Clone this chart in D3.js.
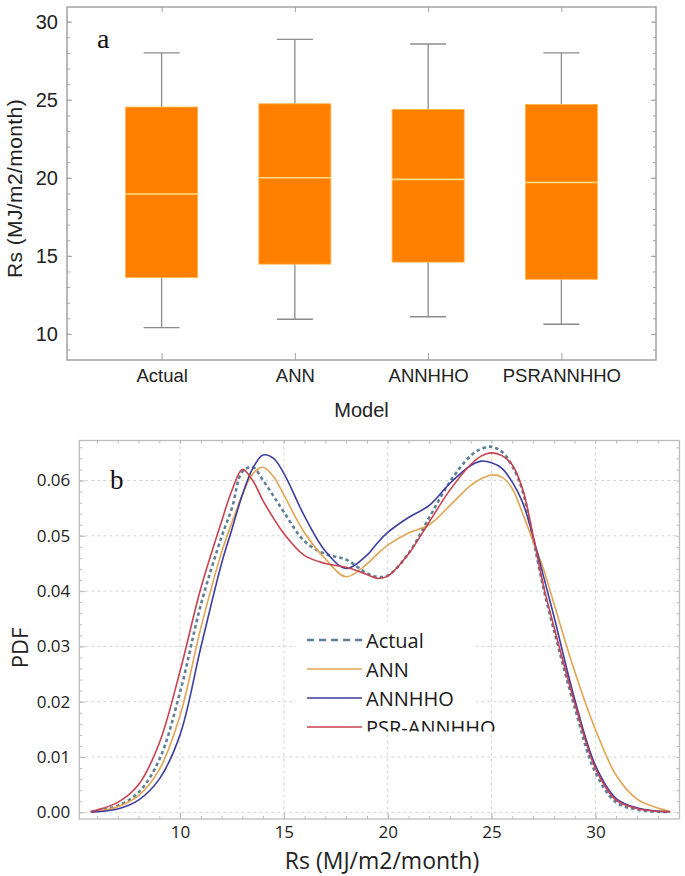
<!DOCTYPE html>
<html><head><meta charset="utf-8">
<script src="https://cdn.jsdelivr.net/npm/d3@7"></script>
<style>
html,body{margin:0;padding:0;background:#fff;}
svg{display:block;}
</style></head>
<body>
<svg id="chart" width="685" height="876"></svg>
<script>
// ---------- Data: panel a (box plot) ----------
const categories = ["Actual", "ANN", "ANNHHO", "PSRANNHHO"];
const whiskerLow  = [10.40, 10.94, 11.10, 10.62];
const q1          = [13.62, 14.47, 14.60, 13.50];
const median      = [18.96, 20.00, 19.90, 19.70];
const q3          = [24.53, 24.74, 24.38, 24.70];
const whiskerHigh = [28.00, 28.87, 28.57, 28.00];
const boxYTicks = [10, 15, 20, 25, 30];

// ---------- Data: panel b (PDF curves) ----------
const pdfX = [5.7, 6, 7, 8, 9, 10, 11, 12, 12.5, 13, 13.5, 14, 14.5, 15, 16, 17, 18, 19, 19.5, 20, 21, 22, 23, 24, 24.5, 25, 25.5, 26, 26.5, 27, 27.5, 28, 29, 30, 31, 32, 33, 33.6];
const pdfActual = [0.0001, 0.0003, 0.0012, 0.0036, 0.0095, 0.0217, 0.0375, 0.0498, 0.0550, 0.0616, 0.0624, 0.0600, 0.0572, 0.0543, 0.0490, 0.0467, 0.0457, 0.0432, 0.0426, 0.0428, 0.0468, 0.0533, 0.0598, 0.0645, 0.0657, 0.0661, 0.0652, 0.0626, 0.0580, 0.0495, 0.0405, 0.0330, 0.0190, 0.0072, 0.0018, 0.0005, 0.0001, 0.0001];
const pdfANN    = [0.0001, 0.0002, 0.0010, 0.0030, 0.0077, 0.0175, 0.0333, 0.0470, 0.0524, 0.0574, 0.0612, 0.0624, 0.0607, 0.0574, 0.0505, 0.0458, 0.0426, 0.0449, 0.0467, 0.0483, 0.0505, 0.0520, 0.0555, 0.0591, 0.0603, 0.0610, 0.0606, 0.0585, 0.0540, 0.0490, 0.0440, 0.0378, 0.0255, 0.0150, 0.0067, 0.0024, 0.0008, 0.0002];
const pdfANNHHO = [0.0001, 0.0001, 0.0006, 0.0022, 0.0060, 0.0140, 0.0298, 0.0450, 0.0512, 0.0574, 0.0622, 0.0646, 0.0640, 0.0613, 0.0535, 0.0472, 0.0441, 0.0465, 0.0487, 0.0506, 0.0533, 0.0555, 0.0595, 0.0627, 0.0635, 0.0632, 0.0622, 0.0597, 0.0560, 0.0498, 0.0427, 0.0355, 0.0205, 0.0085, 0.0025, 0.0008, 0.0002, 0.0001];
const pdfPSR    = [0.0001, 0.0004, 0.0018, 0.0050, 0.0125, 0.0255, 0.0405, 0.0526, 0.0582, 0.0620, 0.0600, 0.0563, 0.0532, 0.0504, 0.0464, 0.0450, 0.0443, 0.0430, 0.0423, 0.0427, 0.0467, 0.0525, 0.0583, 0.0629, 0.0644, 0.0650, 0.0645, 0.0628, 0.0584, 0.0500, 0.0410, 0.0336, 0.0198, 0.0080, 0.0022, 0.0007, 0.0002, 0.0001];
const seriesNames = ["Actual", "ANN", "ANNHHO", "PSR-ANNHHO"];
const pdfXTicks = [10, 15, 20, 25, 30];
const pdfYTicks = [0, 0.01, 0.02, 0.03, 0.04, 0.05, 0.06];

const svg = d3.select("#chart");

// ================= Panel a =================
const A = {left: 67, right: 656, top: 7, bottom: 360};
const xA = d3.scalePoint().domain(categories).range([A.left, A.right]).padding(0.71);
const yA = d3.scaleLinear().domain([8.33, 30.94]).range([A.bottom, A.top]);
const frameA = "#a3a3a3";
const fontA = "'Liberation Sans', Arial, sans-serif";

const gA = svg.append("g");

function styleAxis(g, color, fontFamily, fontSize) {
  g.select(".domain").remove();
  g.selectAll(".tick line").attr("stroke", color).attr("stroke-width", 1);
  g.selectAll(".tick text").attr("fill", "#222").style("font-family", fontFamily).style("font-size", fontSize + "px");
}

gA.append("g").attr("transform", `translate(${A.left},0)`)
  .call(d3.axisLeft(yA).tickValues(boxYTicks).tickSize(-5).tickPadding(9).tickFormat(d3.format("d")))
  .call(g => styleAxis(g, frameA, fontA, 20));
gA.append("g").attr("transform", `translate(${A.left},0)`)
  .call(d3.axisLeft(yA).tickValues(d3.range(9, 31, 1)).tickSize(-3).tickFormat(""))
  .call(g => styleAxis(g, frameA, fontA, 10));
gA.append("g").attr("transform", `translate(${A.right},0)`)
  .call(d3.axisRight(yA).tickValues(boxYTicks).tickSize(-5).tickFormat(""))
  .call(g => styleAxis(g, frameA, fontA, 10));
gA.append("g").attr("transform", `translate(${A.right},0)`)
  .call(d3.axisRight(yA).tickValues(d3.range(9, 31, 1)).tickSize(-3).tickFormat(""))
  .call(g => styleAxis(g, frameA, fontA, 10));
gA.append("g").attr("transform", `translate(0,${A.bottom})`)
  .call(d3.axisBottom(xA).tickSize(-7).tickPadding(9))
  .call(g => styleAxis(g, frameA, fontA, 18.5));
gA.append("g").attr("transform", `translate(0,${A.top})`)
  .call(d3.axisTop(xA).tickSize(-5).tickFormat(""))
  .call(g => styleAxis(g, frameA, fontA, 10));

gA.append("rect").attr("x", A.left).attr("y", A.top)
  .attr("width", A.right - A.left).attr("height", A.bottom - A.top)
  .attr("fill", "none").attr("stroke", frameA).attr("stroke-width", 1.5);

const boxW = 72, capW = 36;
const boxes = gA.append("g").selectAll("g").data(categories).join("g");
boxes.append("line")
  .attr("x1", d => xA(d)).attr("x2", d => xA(d))
  .attr("y1", (d, i) => yA(whiskerHigh[i])).attr("y2", (d, i) => yA(q3[i]))
  .attr("stroke", "#8c8c8c").attr("stroke-width", 1.3);
boxes.append("line")
  .attr("x1", d => xA(d)).attr("x2", d => xA(d))
  .attr("y1", (d, i) => yA(q1[i])).attr("y2", (d, i) => yA(whiskerLow[i]))
  .attr("stroke", "#8c8c8c").attr("stroke-width", 1.3);
boxes.append("line")
  .attr("x1", d => xA(d) - capW / 2).attr("x2", d => xA(d) + capW / 2)
  .attr("y1", (d, i) => yA(whiskerHigh[i])).attr("y2", (d, i) => yA(whiskerHigh[i]))
  .attr("stroke", "#8c8c8c").attr("stroke-width", 1.3);
boxes.append("line")
  .attr("x1", d => xA(d) - capW / 2).attr("x2", d => xA(d) + capW / 2)
  .attr("y1", (d, i) => yA(whiskerLow[i])).attr("y2", (d, i) => yA(whiskerLow[i]))
  .attr("stroke", "#8c8c8c").attr("stroke-width", 1.3);
boxes.append("rect")
  .attr("x", d => xA(d) - boxW / 2).attr("width", boxW)
  .attr("y", (d, i) => yA(q3[i])).attr("height", (d, i) => yA(q1[i]) - yA(q3[i]))
  .attr("fill", "#ff8000").attr("stroke", "#ffb347").attr("stroke-width", 0.8);
boxes.append("line")
  .attr("x1", d => xA(d) - boxW / 2).attr("x2", d => xA(d) + boxW / 2)
  .attr("y1", (d, i) => yA(median[i])).attr("y2", (d, i) => yA(median[i]))
  .attr("stroke", "#ffe08a").attr("stroke-width", 1.6);

gA.append("text").attr("x", 97).attr("y", 48)
  .style("font-family", "'Liberation Serif', 'Times New Roman', serif").style("font-size", "28px")
  .attr("fill", "#111").text("a");
gA.append("text")
  .attr("transform", `translate(22,${(A.top + A.bottom) / 2 + 5}) rotate(-90)`)
  .attr("text-anchor", "middle").attr("fill", "#222")
  .style("font-family", fontA).style("font-size", "21px").style("letter-spacing", "0.4px")
  .text("Rs (MJ/m2/month)");
gA.append("text").attr("x", (A.left + A.right) / 2).attr("y", 417)
  .attr("text-anchor", "middle").attr("fill", "#222")
  .style("font-family", fontA).style("font-size", "20px").text("Model");

// ================= Panel b =================
const B = {left: 79.3, right: 679.5, top: 440.5, bottom: 819};
const xB = d3.scaleLinear().domain([5.15, 34.05]).range([B.left, B.right]);
const yB = d3.scaleLinear().domain([-0.00121, 0.06723]).range([B.bottom, B.top]);
const frameB = "#bdbdbd";
const fontB = "'Open Sans', 'Noto Sans', sans-serif";
const gB = svg.append("g");

gB.append("g").selectAll("line").data(pdfYTicks).join("line")
  .attr("x1", B.left).attr("x2", B.right)
  .attr("y1", d => yB(d)).attr("y2", d => yB(d))
  .attr("stroke", "#d4d4d4").attr("stroke-width", 1).attr("stroke-dasharray", "3,3");
gB.append("g").selectAll("line").data(pdfXTicks).join("line")
  .attr("x1", d => xB(d)).attr("x2", d => xB(d))
  .attr("y1", B.top).attr("y2", B.bottom)
  .attr("stroke", "#d4d4d4").attr("stroke-width", 1).attr("stroke-dasharray", "3,3");

gB.append("g").attr("transform", `translate(${B.left},0)`)
  .call(d3.axisLeft(yB).tickValues(pdfYTicks).tickSize(-6).tickPadding(9).tickFormat(d3.format(".2f")))
  .call(g => styleAxis(g, frameB, fontB, 17));
gB.append("g").attr("transform", `translate(${B.left},0)`)
  .call(d3.axisLeft(yB).tickValues(d3.range(0, 0.0665, 0.002)).tickSize(-3).tickFormat(""))
  .call(g => styleAxis(g, frameB, fontB, 10));
gB.append("g").attr("transform", `translate(${B.right},0)`)
  .call(d3.axisRight(yB).tickValues(d3.range(0, 0.0665, 0.002)).tickSize(-3).tickFormat(""))
  .call(g => styleAxis(g, frameB, fontB, 10));
gB.append("g").attr("transform", `translate(0,${B.bottom})`)
  .call(d3.axisBottom(xB).tickValues(pdfXTicks).tickSize(-6).tickPadding(7).tickFormat(d3.format("d")))
  .call(g => styleAxis(g, frameB, fontB, 17));
gB.append("g").attr("transform", `translate(0,${B.bottom})`)
  .call(d3.axisBottom(xB).tickValues(d3.range(6, 34, 1)).tickSize(-3).tickFormat(""))
  .call(g => styleAxis(g, frameB, fontB, 10));
gB.append("g").attr("transform", `translate(0,${B.top})`)
  .call(d3.axisTop(xB).tickValues(d3.range(6, 34, 1)).tickSize(-3).tickFormat(""))
  .call(g => styleAxis(g, frameB, fontB, 10));

gB.append("rect").attr("x", B.left).attr("y", B.top)
  .attr("width", B.right - B.left).attr("height", B.bottom - B.top)
  .attr("fill", "none").attr("stroke", frameB).attr("stroke-width", 1.3);

const series = [
  {name: seriesNames[0], values: pdfActual, color: "#5e8099", width: 2.6, dash: "3.5,3"},
  {name: seriesNames[1], values: pdfANN,    color: "#e2a553", width: 1.6, dash: null},
  {name: seriesNames[2], values: pdfANNHHO, color: "#3d3e9f", width: 1.6, dash: null},
  {name: seriesNames[3], values: pdfPSR,    color: "#c8424f", width: 1.6, dash: null}
];
const line = d3.line().x(d => xB(d[0])).y(d => yB(d[1])).curve(d3.curveCatmullRom.alpha(0.5));
gB.append("g").selectAll("path").data(series).join("path")
  .attr("d", s => line(pdfX.map((x, i) => [x, s.values[i]])))
  .attr("fill", "none").attr("stroke", s => s.color).attr("stroke-width", s => s.width)
  .attr("stroke-dasharray", s => s.dash);

// legend (last label clipped at the bottom, as in the source figure)
svg.append("clipPath").attr("id", "legclip").append("rect")
  .attr("x", 296).attr("y", 622).attr("width", 214).attr("height", 109.5);
const leg = gB.append("g").attr("clip-path", "url(#legclip)");
leg.append("rect").attr("x", 296).attr("y", 622).attr("width", 180).attr("height", 109.5).attr("fill", "#fff");
const legRows = leg.selectAll("g").data(series).join("g")
  .attr("transform", (d, i) => `translate(0,${640 + i * 29})`);
legRows.append("line").attr("x1", 307).attr("x2", 362).attr("y1", 0).attr("y2", 0)
  .attr("stroke", s => s.color).attr("stroke-width", s => s.dash ? 2.6 : 1.6)
  .attr("stroke-dasharray", s => s.dash ? "7,5" : null);
legRows.append("text").attr("x", 366).attr("y", 7.5)
  .attr("fill", "#1a1a1a").style("font-family", fontB).style("font-size", "20px")
  .text(s => s.name);

gB.append("text").attr("x", 110).attr("y", 489)
  .style("font-family", "'Liberation Serif', 'Times New Roman', serif").style("font-size", "27px")
  .attr("fill", "#111").text("b");
gB.append("text")
  .attr("transform", `translate(28,648) rotate(-90)`)
  .attr("text-anchor", "middle").attr("fill", "#222")
  .style("font-family", fontB).style("font-size", "22px").text("PDF");
gB.append("text").attr("x", 382).attr("y", 869)
  .attr("text-anchor", "middle").attr("fill", "#222")
  .style("font-family", fontB).style("font-size", "23px").text("Rs (MJ/m2/month)");
</script>
</body></html>
